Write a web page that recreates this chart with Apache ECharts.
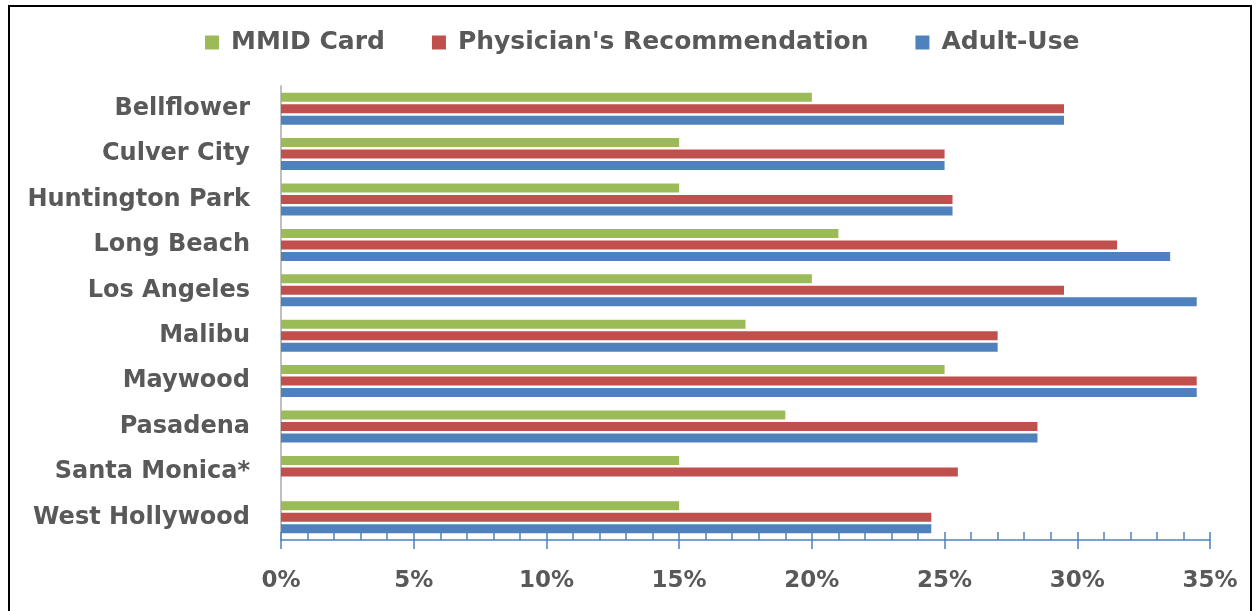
<!DOCTYPE html>
<html>
<head>
<meta charset="utf-8">
<script src="https://cdn.jsdelivr.net/npm/echarts@6/dist/echarts.min.js"></script>
<style>
html,body{margin:0;padding:0;background:#fff;}
#chart{width:1259px;height:611px;}
</style>
</head>
<body>
<div id="chart"></div>
<script>
const categories = ['Bellflower','Culver City','Huntington Park','Long Beach','Los Angeles','Malibu','Maywood','Pasadena','Santa Monica*','West Hollywood'];
const mmidCard = [20, 15, 15, 21, 20, 17.5, 25, 19, 15, 15];
const physicianRec = [29.5, 25, 25.3, 31.5, 29.5, 27, 34.5, 28.5, 25.5, 24.5];
const adultUse = [29.5, 25, 25.3, 33.5, 34.5, 27, 34.5, 28.5, null, 24.5];
const seriesNames = ['MMID Card', "Physician's Recommendation", 'Adult-Use'];

const FONT = 'DejaVu Sans';
const TXT = '#595959';
const chart = echarts.init(document.getElementById('chart'));
const barCommon = { type: 'bar', barWidth: 9, barGap: '28%', barCategoryGap: '10%' };
chart.setOption({
  animation: false,
  graphic: [{
    type: 'rect', z: 100,
    shape: { x: 9, y: 6, width: 1242, height: 640 },
    style: { fill: 'none', stroke: '#000', lineWidth: 2 }
  }],
  legend: {
    top: 30, left: 205, padding: 0,
    itemWidth: 14, itemHeight: 14, itemGap: 47,
    icon: 'rect',
    textStyle: { fontFamily: FONT, fontWeight: 'bold', fontSize: 25, color: TXT, padding: [0, 0, 0, 7] },
    data: seriesNames
  },
  grid: { left: 281, right: 49, top: 86, bottom: 71, containLabel: false },
  xAxis: [{
    type: 'value', min: 0, max: 35, interval: 5,
    axisLine: { show: true, lineStyle: { color: '#4F81BD', width: 1.5 } },
    axisTick: { show: true, inside: false, length: 9, lineStyle: { color: '#4F81BD', width: 1.5 } },
    splitLine: { show: false },
    axisLabel: { formatter: '{value}%', fontFamily: FONT, fontWeight: 'bold', fontSize: 23, color: TXT, margin: 30 }
  }, {
    type: 'value', min: 0, max: 35, interval: 1, position: 'bottom',
    axisLine: { show: false },
    axisTick: { show: true, inside: true, length: 8, lineStyle: { color: '#4F81BD', width: 1.5 } },
    splitLine: { show: false },
    axisLabel: { show: false }
  }],
  yAxis: {
    type: 'category', data: categories, inverse: true,
    axisLine: { show: true, lineStyle: { color: '#BFBFBF', width: 2 } },
    axisTick: { show: false },
    axisLabel: { fontFamily: FONT, fontWeight: 'bold', fontSize: 24, color: TXT, margin: 31 }
  },
  series: [
    Object.assign({ name: seriesNames[0], data: mmidCard, itemStyle: { color: '#9BBB59' } }, barCommon),
    Object.assign({ name: seriesNames[1], data: physicianRec, itemStyle: { color: '#C0504D' } }, barCommon),
    Object.assign({ name: seriesNames[2], data: adultUse, itemStyle: { color: '#4F81BD' } }, barCommon)
  ]
});
</script>
</body>
</html>
